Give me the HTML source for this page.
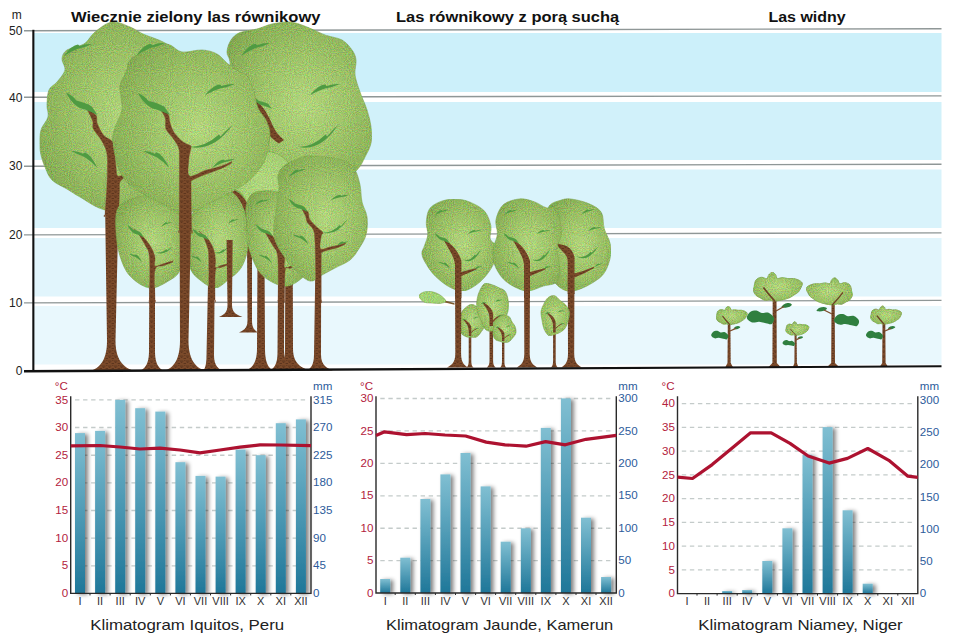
<!DOCTYPE html>
<html lang="pl"><head><meta charset="utf-8"><title>Lasy strefy międzyzwrotnikowej</title>
<style>html,body{margin:0;padding:0;background:#fff}svg{display:block}</style></head>
<body>
<svg width="960" height="640" viewBox="0 0 960 640" font-family="'Liberation Sans', 'DejaVu Sans', sans-serif">
<defs>
<radialGradient id="gL" cx="0.55" cy="0.5" r="0.62"><stop offset="0" stop-color="#bee28a"/><stop offset="0.45" stop-color="#a4cb70"/><stop offset="0.85" stop-color="#8ab259"/><stop offset="1" stop-color="#7da54e"/></radialGradient>
<radialGradient id="gK" cx="0.5" cy="0.5" r="0.6"><stop offset="0" stop-color="#bde48c"/><stop offset="1" stop-color="#a9d67a"/></radialGradient>
<radialGradient id="gS" cx="0.5" cy="0.5" r="0.6"><stop offset="0" stop-color="#c0e38c"/><stop offset="0.7" stop-color="#9cc568"/><stop offset="1" stop-color="#86ae55"/></radialGradient>
<linearGradient id="bar" x1="0" y1="0" x2="0" y2="1"><stop offset="0" stop-color="#80bfd2"/><stop offset="1" stop-color="#1f7799"/></linearGradient>
<pattern id="bark" width="6" height="5" patternUnits="userSpaceOnUse"><rect width="6" height="5" fill="#7b4a2a"/><path d="M0 1.1h3.4M3.6 3.5h2.4M0.8 2.4h1.6M4.2 0.4h1.2" stroke="#54301a" stroke-width="0.8" fill="none"/></pattern>
<filter id="sh" x="-60%" y="-5%" width="300%" height="110%"><feGaussianBlur in="SourceAlpha" stdDeviation="1.9"/><feOffset dx="3.1" dy="1.2"/><feComponentTransfer><feFuncA type="linear" slope="0.5"/></feComponentTransfer><feMerge><feMergeNode/><feMergeNode in="SourceGraphic"/></feMerge></filter>
<filter id="grain" x="0" y="0" width="100%" height="100%" color-interpolation-filters="sRGB"><feTurbulence type="fractalNoise" baseFrequency="0.95" numOctaves="2" seed="11" result="n"/><feColorMatrix in="n" type="matrix" values="1.6 0 0 0 -0.23  0 1.6 0 0 -0.11  0 0 1.6 0 -0.45  0 0 0 0 0.26" result="sp"/><feComposite in="sp" in2="SourceAlpha" operator="in" result="sp2"/><feMerge><feMergeNode in="SourceGraphic"/><feMergeNode in="sp2"/></feMerge></filter>
</defs>
<rect width="960" height="640" fill="#fff"/>
<rect x="34" y="33.0" width="907.5" height="59.0" fill="#ccf0fa"/>
<rect x="34" y="102.0" width="907.5" height="58.0" fill="#d1f1fa"/>
<rect x="34" y="169.5" width="907.5" height="58.5" fill="#d9f3fb"/>
<rect x="34" y="238.0" width="907.5" height="58.5" fill="#e1f5fc"/>
<rect x="34" y="306.0" width="907.5" height="58.5" fill="#e9f8fd"/>
<line x1="24" y1="30.7" x2="941.5" y2="28.8" stroke="#8f9797" stroke-width="1.4"/>
<line x1="24" y1="97.3" x2="941.5" y2="95.9" stroke="#8f9797" stroke-width="1.4"/>
<line x1="24" y1="166.2" x2="941.5" y2="164.3" stroke="#8f9797" stroke-width="1.4"/>
<line x1="24" y1="234.9" x2="941.5" y2="232.9" stroke="#8f9797" stroke-width="1.4"/>
<line x1="24" y1="302.9" x2="941.5" y2="300.4" stroke="#8f9797" stroke-width="1.4"/>
<g id="forest1">
<path d="M285.5 190.0 L285.0 348.5 C285.0 364.3 279.0 368.3 274.0 370.5 L310.0 370.5 C302.4 368.3 293.0 364.3 293.0 348.5 L292.5 190.0 Z" fill="url(#bark)"/>
<path d="M257.5 255.0 L257.0 348.5 C257.0 364.3 251.0 368.3 246.0 370.5 L273.0 370.5 C269.4 368.3 265.0 364.3 265.0 348.5 L264.5 255.0 Z" fill="url(#bark)"/>
<path d="M290.0 22.0 C295.8 22.5 301.2 24.8 307.0 27.0 C312.8 29.2 319.2 32.8 325.0 35.0 C330.8 37.2 337.5 37.5 342.0 40.0 C346.5 42.5 349.7 46.7 352.0 50.0 C354.3 53.3 355.5 55.8 356.0 60.0 C356.5 64.2 354.3 69.7 355.0 75.0 C355.7 80.3 358.0 86.2 360.0 92.0 C362.0 97.8 365.2 104.2 367.0 110.0 C368.8 115.8 370.3 121.5 371.0 127.0 C371.7 132.5 372.0 138.0 371.0 143.0 C370.0 148.0 367.3 152.5 365.0 157.0 C362.7 161.5 361.2 165.8 357.0 170.0 C352.8 174.2 347.8 178.7 340.0 182.0 C332.2 185.3 320.8 189.3 310.0 190.0 C299.2 190.7 285.0 188.3 275.0 186.0 C265.0 183.7 257.2 180.3 250.0 176.0 C242.8 171.7 236.3 166.0 232.0 160.0 C227.7 154.0 225.7 147.0 224.0 140.0 C222.3 133.0 221.7 125.0 222.0 118.0 C222.3 111.0 224.8 104.3 226.0 98.0 C227.2 91.7 228.3 86.0 229.0 80.0 C229.7 74.0 230.3 66.7 230.0 62.0 C229.7 57.3 226.8 55.7 227.0 52.0 C227.2 48.3 228.8 43.2 231.0 40.0 C233.2 36.8 235.7 34.3 240.0 32.5 C244.3 30.7 251.7 30.4 257.0 29.0 C262.3 27.6 266.5 25.2 272.0 24.0 C277.5 22.8 284.2 21.5 290.0 22.0Z" fill="url(#gL)" filter="url(#grain)" stroke="#76a048" stroke-width="1" stroke-opacity="0.5"/>
<path d="M252 97 C262 104 268 114 272 124 C275 131 279 136 284 140 L279 143.5 C270 138 262 128 258 117 C255 109 252 104 248 101Z" fill="url(#bark)"/>
<path d="M252.0 96.0 C254.4 97.0 257.0 98.6 258.6 100.7 C262.0 101.5 266.0 102.5 268.4 104.1 L272.0 109.0 C269.0 107.7 265.0 105.8 261.0 105.1 C257.0 103.2 254.0 99.9 252.0 96.0Z" fill="#4f9b42"/>
<path transform="translate(241.0 56.0)" d="M0 0 Q8.1 -11.8 14.5 -12.3 L16.2 -10.8 Q22.6 -13.6 29.0 -13.0 Q21.5 -9.3 14.5 -8.0 Q7.0 -4.9 0 0Z" fill="#4f9b42"/>
<path transform="translate(310.0 95.0)" d="M0 0 Q8.4 -10.2 15.0 -10.6 L16.8 -9.1 Q23.4 -11.6 30.0 -11.0 Q22.2 -7.5 15.0 -6.5 Q7.2 -3.9 0 0Z" fill="#4f9b42"/>
<path d="M299.0 147.0 Q313.8 146.3 325.5 134.5 L327.1 136.5 Q333.3 129.0 338.0 125.0 Q320.4 151.6 299.0 147.0Z" fill="#4f9b42"/>
<path d="M105.0 200.0 L107.0 341.0 C107.0 362.6 97.7 368.8 90.0 371.0 L135.0 371.0 C126.2 368.8 115.5 362.6 115.5 341.0 L118.7 200.0 Z" fill="url(#bark)"/>
<path d="M112.0 22.0 C117.8 21.2 124.8 25.0 130.0 27.0 C135.2 29.0 137.2 31.3 143.0 34.0 C148.8 36.7 158.0 39.0 165.0 43.0 C172.0 47.0 180.5 51.8 185.0 58.0 C189.5 64.2 190.2 71.3 192.0 80.0 C193.8 88.7 194.7 100.0 196.0 110.0 C197.3 120.0 200.7 129.2 200.0 140.0 C199.3 150.8 197.0 165.0 192.0 175.0 C187.0 185.0 178.7 193.8 170.0 200.0 C161.3 206.2 150.8 210.3 140.0 212.0 C129.2 213.7 115.0 212.5 105.0 210.0 C95.0 207.5 86.3 200.5 80.0 197.0 C73.7 193.5 71.7 191.8 67.0 189.0 C62.3 186.2 55.7 183.7 52.0 180.0 C48.3 176.3 46.8 171.2 45.0 167.0 C43.2 162.8 41.8 158.7 41.0 155.0 C40.2 151.3 40.0 149.2 40.0 145.0 C40.0 140.8 39.7 134.7 41.0 130.0 C42.3 125.3 47.0 121.2 48.0 117.0 C49.0 112.8 46.8 109.5 47.0 105.0 C47.2 100.5 47.3 93.8 49.0 90.0 C50.7 86.2 54.3 85.3 57.0 82.0 C59.7 78.7 64.2 73.8 65.0 70.0 C65.8 66.2 61.7 62.3 62.0 59.0 C62.3 55.7 63.3 52.5 67.0 50.0 C70.7 47.5 79.3 47.0 84.0 44.0 C88.7 41.0 90.3 35.7 95.0 32.0 C99.7 28.3 106.2 22.8 112.0 22.0Z" fill="url(#gL)" filter="url(#grain)" stroke="#76a048" stroke-width="1" stroke-opacity="0.5"/>
<path d="M84.8 106.4 C86.1 107.1 93.7 112.1 95.8 115.0 C97.9 117.9 96.0 120.2 97.3 123.6 C98.6 127.0 101.1 132.3 103.6 135.3 C106.1 138.3 110.4 138.7 112.2 141.6 C114.0 144.5 113.8 148.1 114.5 152.5 C115.2 156.9 115.6 164.1 116.1 168.0 C116.6 171.9 116.1 174.9 117.7 176.0 C119.3 177.1 124.2 174.6 125.5 174.3 C126.8 174.0 125.7 173.8 125.5 174.3 C125.3 174.8 125.1 176.2 124.2 177.5 C123.3 178.8 120.8 179.9 120.0 182.0 C119.2 184.1 119.7 184.5 119.5 190.0 C119.3 195.5 118.8 210.8 118.7 215.0 C118.6 219.2 121.0 215.0 118.7 215.0 C116.4 215.0 107.3 215.0 105.0 215.0 C102.7 215.0 104.7 219.2 105.0 215.0 C105.3 210.8 106.3 197.8 106.7 190.0 C107.1 182.2 107.5 174.2 107.5 168.0 C107.5 161.8 107.7 157.2 106.7 152.5 C105.7 147.8 103.5 143.9 101.2 140.0 C99.0 136.1 94.8 132.1 93.4 129.0 C92.0 125.9 93.6 124.2 92.7 121.2 C91.8 118.2 89.3 113.5 88.0 111.0 C86.7 108.5 83.5 105.7 84.8 106.4Z" fill="url(#bark)" stroke="#7b4a2a" stroke-width="0.4" stroke-linejoin="round"/>
<path d="M66.0 92.5 C69.8 94.3 73.9 97.0 76.4 100.6 C81.8 102.0 88.0 103.8 91.8 106.5 L97.5 115.0 C92.8 112.8 86.5 109.4 80.2 108.2 C73.9 104.9 69.2 99.2 66.0 92.5Z" fill="#4f9b42"/>
<path transform="translate(64.0 56.0)" d="M0 0 Q7.8 -10.9 14.0 -11.4 L15.7 -10.0 Q21.8 -12.6 28.0 -12.0 Q20.7 -8.5 14.0 -7.3 Q6.7 -4.5 0 0Z" fill="#4f9b42"/>
<path transform="translate(97.5 168.0) scale(-1 1)" d="M0 0 Q7.3 -14.8 13.0 -15.6 L14.6 -14.2 Q20.3 -17.6 26.0 -17.0 Q19.2 -13.0 13.0 -11.1 Q6.2 -6.9 0 0Z" fill="#4f9b42"/>
<path d="M264.0 152.0 C270.3 151.2 276.2 153.0 281.0 156.0 C285.8 159.0 290.3 164.3 293.0 170.0 C295.7 175.7 297.3 183.7 297.0 190.0 C296.7 196.3 295.2 203.5 291.0 208.0 C286.8 212.5 278.5 216.2 272.0 217.0 C265.5 217.8 257.7 215.7 252.0 213.0 C246.3 210.3 241.2 206.0 238.0 201.0 C234.8 196.0 232.2 189.7 233.0 183.0 C233.8 176.3 237.8 166.2 243.0 161.0 C248.2 155.8 257.7 152.8 264.0 152.0Z" fill="url(#gK)" filter="url(#grain)" stroke="#76a048" stroke-width="1" stroke-opacity="0.5"/>
<path d="M247.0 235.0 L247.5 320.5 C247.5 329.1 242.8 330.3 239.0 332.5 L258.0 332.5 C255.3 330.3 252.0 329.1 252.0 320.5 L252.0 235.0 Z" fill="url(#bark)"/>
<path d="M149.5 245.0 L149.0 351.0 C149.0 365.4 144.1 368.8 140.0 371.0 L164.0 371.0 C159.9 368.8 155.0 365.4 155.0 351.0 L155.0 245.0 Z" fill="url(#bark)"/>
<path d="M135.0 198.0 C141.2 196.0 148.2 195.2 155.0 196.0 C161.8 196.8 171.3 198.7 176.0 203.0 C180.7 207.3 182.0 214.2 183.0 222.0 C184.0 229.8 182.5 242.0 182.0 250.0 C181.5 258.0 182.0 265.0 180.0 270.0 C178.0 275.0 175.0 277.0 170.0 280.0 C165.0 283.0 156.7 288.7 150.0 288.0 C143.3 287.3 135.0 281.3 130.0 276.0 C125.0 270.7 122.3 263.3 120.0 256.0 C117.7 248.7 116.3 240.0 116.0 232.0 C115.7 224.0 114.8 213.7 118.0 208.0 C121.2 202.3 128.8 200.0 135.0 198.0Z" fill="url(#gL)" filter="url(#grain)" stroke="#76a048" stroke-width="1" stroke-opacity="0.5"/>
<path d="M134.0 229.0 C135.0 229.8 140.9 234.4 143.8 237.5 C146.6 240.6 149.4 244.2 151.2 247.5 C153.1 250.8 154.4 254.4 155.0 257.5 C155.6 260.6 153.5 265.0 155.0 266.0 C156.5 267.0 161.1 264.3 164.0 263.5 C166.9 262.7 171.1 261.4 172.5 261.0 C173.9 260.6 172.5 260.8 172.5 261.0 C172.5 261.2 173.9 261.4 172.5 262.2 C171.1 262.9 166.9 264.2 164.0 265.5 C161.1 266.8 156.5 264.2 155.0 270.0 C153.5 275.8 155.0 295.0 155.0 300.0 C155.0 305.0 155.9 300.0 155.0 300.0 C154.1 300.0 150.4 300.0 149.5 300.0 C148.6 300.0 149.5 307.1 149.5 300.0 C149.5 292.9 150.2 266.7 149.5 257.5 C148.8 248.3 147.0 249.2 145.0 245.0 C143.0 240.8 139.3 235.2 137.5 232.5 C135.7 229.8 133.0 228.2 134.0 229.0Z" fill="url(#bark)" stroke="#7b4a2a" stroke-width="0.4" stroke-linejoin="round"/>
<path d="M127.5 225.0 C129.5 226.0 131.6 227.5 132.9 229.5 C135.7 230.2 138.9 231.2 140.9 232.8 L143.8 237.5 C141.4 236.2 138.1 234.4 134.8 233.8 C131.6 231.9 129.1 228.8 127.5 225.0Z" fill="#4f9b42"/>
<path transform="translate(161.0 227.0)" d="M0 0 Q3.1 -4.7 5.5 -4.8 L6.2 -4.1 Q8.6 -5.3 11.0 -5.0 Q8.1 -3.4 5.5 -2.9 Q2.6 -1.7 0 0Z" fill="#4f9b42"/>
<path transform="translate(142.0 262.0) scale(-1 1)" d="M0 0 Q3.6 -7.1 6.5 -7.4 L7.3 -6.7 Q10.1 -8.3 13.0 -8.0 Q9.6 -6.0 6.5 -5.1 Q3.1 -3.2 0 0Z" fill="#4f9b42"/>
<path d="M155.0 252.0 Q161.5 253.8 166.6 249.2 L167.2 250.2 Q170.0 248.1 172.0 247.0 Q164.3 256.7 155.0 252.0Z" fill="#4f9b42"/>
<path d="M208.8 245.0 L206.5 355.0 C206.5 366.5 204.6 368.8 203.0 371.0 L223.0 371.0 C218.9 368.8 214.0 366.5 214.0 355.0 L215.0 245.0 Z" fill="url(#bark)"/>
<path d="M203.0 201.0 C208.7 196.2 216.2 194.7 222.0 193.0 C227.8 191.3 234.0 189.3 238.0 191.0 C242.0 192.7 244.3 196.5 246.0 203.0 C247.7 209.5 247.8 222.2 248.0 230.0 C248.2 237.8 248.7 243.7 247.5 250.0 C246.3 256.3 244.2 263.0 241.0 268.0 C237.8 273.0 232.3 276.7 228.0 280.0 C223.7 283.3 219.7 288.0 215.0 288.0 C210.3 288.0 204.2 283.3 200.0 280.0 C195.8 276.7 192.3 273.8 190.0 268.0 C187.7 262.2 186.3 252.7 186.0 245.0 C185.7 237.3 185.2 229.3 188.0 222.0 C190.8 214.7 197.3 205.8 203.0 201.0Z" fill="url(#gL)" filter="url(#grain)" stroke="#76a048" stroke-width="1" stroke-opacity="0.5"/>
<path d="M199.0 231.5 C200.0 232.3 206.3 236.9 208.8 240.0 C211.2 243.1 212.6 246.7 213.8 250.0 C214.9 253.3 215.2 257.1 215.5 260.0 C215.8 262.9 214.6 266.6 215.5 267.5 C216.4 268.4 219.0 266.1 221.0 265.5 C223.0 264.9 226.4 264.0 227.5 263.8 C228.6 263.5 227.5 263.5 227.5 263.8 C227.5 264.0 228.6 264.4 227.5 265.0 C226.4 265.6 223.0 266.6 221.0 267.5 C219.0 268.4 216.5 265.1 215.5 270.5 C214.5 275.9 215.1 295.1 215.0 300.0 C214.9 304.9 216.0 300.0 215.0 300.0 C214.0 300.0 209.8 300.0 208.8 300.0 C207.7 300.0 208.8 307.1 208.8 300.0 C208.8 292.9 209.0 266.2 208.8 257.5 C208.5 248.8 208.5 251.2 207.5 247.5 C206.5 243.8 203.9 237.7 202.5 235.0 C201.1 232.3 198.0 230.7 199.0 231.5Z" fill="url(#bark)" stroke="#7b4a2a" stroke-width="0.4" stroke-linejoin="round"/>
<path d="M192.5 228.8 C194.5 229.7 196.6 231.0 197.9 232.8 C200.7 233.5 203.9 234.4 205.9 235.8 L208.8 240.1 C206.4 238.9 203.1 237.2 199.8 236.7 C196.6 235.0 194.1 232.1 192.5 228.8Z" fill="#4f9b42"/>
<path transform="translate(228.0 224.0)" d="M0 0 Q3.1 -4.7 5.5 -4.8 L6.2 -4.1 Q8.6 -5.3 11.0 -5.0 Q8.1 -3.4 5.5 -2.9 Q2.6 -1.7 0 0Z" fill="#4f9b42"/>
<path transform="translate(202.0 263.0) scale(-1 1)" d="M0 0 Q3.1 -6.3 5.5 -6.6 L6.2 -5.8 Q8.6 -7.3 11.0 -7.0 Q8.1 -5.1 5.5 -4.4 Q2.6 -2.7 0 0Z" fill="#4f9b42"/>
<path d="M214.0 252.0 Q219.3 253.8 223.5 249.2 L224.1 250.2 Q226.3 248.1 228.0 247.0 Q221.7 256.7 214.0 252.0Z" fill="#4f9b42"/>
<path d="M232 192 C238 196 242 203 245 212 C247 220 247 230 247 240 L252 240 C252 228 252 216 249 207 C246 199 240 193 234 190Z" fill="url(#bark)"/>
<path d="M226.6 240.0 L227.5 305.0 C227.5 313.6 222.8 314.8 219.0 317.0 L242.5 317.0 C237.8 314.8 232.0 313.6 232.0 305.0 L232.6 240.0 Z" fill="url(#bark)"/>
<path d="M278.3 245.0 L277.5 352.5 C277.5 365.5 273.4 368.3 270.0 370.5 L292.0 370.5 C288.4 368.3 284.0 365.5 284.0 352.5 L284.5 245.0 Z" fill="url(#bark)"/>
<path d="M262.0 191.0 C266.5 190.5 272.5 190.8 278.0 192.0 C283.5 193.2 290.0 194.2 295.0 198.0 C300.0 201.8 305.2 208.0 308.0 215.0 C310.8 222.0 311.7 231.2 312.0 240.0 C312.3 248.8 311.7 261.7 310.0 268.0 C308.3 274.3 305.7 275.0 302.0 278.0 C298.3 281.0 293.0 285.3 288.0 286.0 C283.0 286.7 277.0 284.7 272.0 282.0 C267.0 279.3 262.0 276.2 258.0 270.0 C254.0 263.8 249.9 252.5 248.0 245.0 C246.1 237.5 246.8 231.3 246.5 225.0 C246.2 218.7 245.2 212.0 246.0 207.0 C246.8 202.0 248.3 197.7 251.0 195.0 C253.7 192.3 257.5 191.5 262.0 191.0Z" fill="url(#gL)" filter="url(#grain)" stroke="#76a048" stroke-width="1" stroke-opacity="0.5"/>
<path d="M262.0 229.0 C263.3 229.7 270.0 233.0 272.8 236.2 C275.6 239.5 277.1 245.4 279.0 248.8 C280.9 252.1 283.6 253.4 284.5 256.5 C285.4 259.6 283.4 265.9 284.5 267.5 C285.6 269.1 288.8 266.5 291.0 266.0 C293.2 265.5 296.7 264.7 297.8 264.4 C298.9 264.1 297.8 264.2 297.8 264.4 C297.8 264.6 299.1 264.8 297.8 265.5 C296.5 266.2 292.1 267.8 290.0 268.5 C287.9 269.2 286.2 264.2 285.3 269.5 C284.4 274.8 284.6 294.9 284.5 300.0 C284.4 305.1 285.5 300.0 284.5 300.0 C283.5 300.0 279.3 300.0 278.3 300.0 C277.3 300.0 278.3 303.3 278.3 300.0 C278.3 296.7 278.4 287.5 278.3 280.0 C278.2 272.5 278.4 260.7 277.5 255.0 C276.6 249.3 274.9 249.4 272.8 245.6 C270.7 241.8 266.8 235.1 265.0 232.3 C263.2 229.5 260.7 228.3 262.0 229.0Z" fill="url(#bark)" stroke="#7b4a2a" stroke-width="0.4" stroke-linejoin="round"/>
<path d="M255.6 224.5 C257.7 225.4 259.9 226.9 261.3 228.7 C264.2 229.5 267.6 230.4 269.7 231.8 L272.8 236.3 C270.2 235.1 266.8 233.3 263.3 232.8 C259.9 231.0 257.3 228.0 255.6 224.5Z" fill="#4f9b42"/>
<path transform="translate(254.8 205.0)" d="M0 0 Q4.2 -5.1 7.5 -5.3 L8.4 -4.6 Q11.7 -5.8 15.0 -5.5 Q11.1 -3.8 7.5 -3.2 Q3.6 -1.9 0 0Z" fill="#4f9b42"/>
<path transform="translate(272.1 263.6) scale(-1 1)" d="M0 0 Q3.7 -7.5 6.7 -7.9 L7.4 -7.2 Q10.4 -8.9 13.3 -8.6 Q9.8 -6.5 6.7 -5.6 Q3.2 -3.5 0 0Z" fill="#4f9b42"/>
<path d="M179.5 200.0 L180.0 340.5 C180.0 362.1 171.8 368.3 165.0 370.5 L205.0 370.5 C197.6 368.3 188.5 362.1 188.5 340.5 L191.5 200.0 Z" fill="url(#bark)"/>
<path d="M140.0 54.0 C145.0 51.5 155.0 46.5 160.0 45.0 C165.0 43.5 166.3 43.8 170.0 45.0 C173.7 46.2 176.7 51.2 182.0 52.0 C187.3 52.8 196.2 49.7 202.0 50.0 C207.8 50.3 212.7 51.7 217.0 54.0 C221.3 56.3 224.2 61.0 228.0 64.0 C231.8 67.0 236.7 69.8 240.0 72.0 C243.3 74.2 245.7 73.7 248.0 77.0 C250.3 80.3 252.3 86.8 254.0 92.0 C255.7 97.2 256.0 103.3 258.0 108.0 C260.0 112.7 264.0 115.8 266.0 120.0 C268.0 124.2 269.7 128.3 270.0 133.0 C270.3 137.7 268.8 143.5 268.0 148.0 C267.2 152.5 266.8 156.0 265.0 160.0 C263.2 164.0 260.2 168.2 257.0 172.0 C253.8 175.8 250.5 179.5 246.0 183.0 C241.5 186.5 236.0 189.7 230.0 193.0 C224.0 196.3 216.3 199.8 210.0 203.0 C203.7 206.2 197.0 210.3 192.0 212.0 C187.0 213.7 184.5 214.2 180.0 213.0 C175.5 211.8 170.8 208.0 165.0 205.0 C159.2 202.0 150.8 198.3 145.0 195.0 C139.2 191.7 134.2 188.8 130.0 185.0 C125.8 181.2 122.5 177.0 120.0 172.0 C117.5 167.0 116.2 159.8 115.0 155.0 C113.8 150.2 113.3 146.3 113.0 143.0 C112.7 139.7 112.5 138.0 113.0 135.0 C113.5 132.0 114.5 129.2 116.0 125.0 C117.5 120.8 121.2 114.7 122.0 110.0 C122.8 105.3 121.3 101.2 121.0 97.0 C120.7 92.8 119.2 89.2 120.0 85.0 C120.8 80.8 124.3 76.2 126.0 72.0 C127.7 67.8 127.7 63.0 130.0 60.0 C132.3 57.0 135.0 56.5 140.0 54.0Z" fill="url(#gL)" filter="url(#grain)" stroke="#76a048" stroke-width="1" stroke-opacity="0.5"/>
<path d="M157.5 105.6 C158.8 106.3 165.6 110.5 167.7 113.4 C169.8 116.3 169.0 119.7 170.0 122.8 C171.0 125.9 171.8 129.1 173.9 132.2 C176.0 135.3 179.8 139.4 182.5 141.6 C185.2 143.8 188.9 144.5 190.3 145.5 C191.7 146.5 191.3 145.3 191.0 147.8 C190.7 150.3 189.0 155.6 188.8 160.3 C188.5 165.0 186.8 174.3 189.5 176.0 C192.2 177.7 199.9 172.1 205.0 170.5 C210.1 168.9 215.7 167.9 220.0 166.5 C224.3 165.1 229.2 162.8 231.0 162.0 C232.8 161.2 231.0 161.8 231.0 162.0 C231.0 162.2 232.8 162.3 231.0 163.5 C229.2 164.7 225.2 166.8 220.0 169.0 C214.8 171.2 204.8 174.5 200.0 176.5 C195.2 178.5 192.5 180.2 191.0 181.0 C189.5 181.8 190.9 172.8 191.0 181.0 C191.1 189.2 191.4 221.8 191.5 230.0 C191.6 238.2 193.5 230.0 191.5 230.0 C189.5 230.0 181.5 230.0 179.5 230.0 C177.5 230.0 179.5 236.7 179.5 230.0 C179.5 223.3 179.4 201.6 179.4 190.0 C179.4 178.4 179.5 167.3 179.4 160.3 C179.3 153.3 179.7 151.5 178.6 147.8 C177.5 144.2 175.2 141.5 173.1 138.4 C171.0 135.3 167.3 132.4 166.0 129.0 C164.7 125.6 166.3 121.3 165.3 118.0 C164.3 114.7 161.3 111.1 160.0 109.0 C158.7 106.9 156.2 104.9 157.5 105.6Z" fill="url(#bark)" stroke="#7b4a2a" stroke-width="0.4" stroke-linejoin="round"/>
<path d="M138.0 93.0 C141.8 94.8 146.0 97.4 148.6 100.9 C154.0 102.2 160.4 104.0 164.2 106.6 L170.0 115.0 C165.2 112.8 158.8 109.5 152.4 108.4 C146.0 105.1 141.2 99.6 138.0 93.0Z" fill="#4f9b42"/>
<path transform="translate(136.0 56.0)" d="M0 0 Q8.1 -11.8 14.5 -12.3 L16.2 -10.8 Q22.6 -13.6 29.0 -13.0 Q21.5 -9.3 14.5 -8.0 Q7.0 -4.9 0 0Z" fill="#4f9b42"/>
<path transform="translate(205.0 95.0)" d="M0 0 Q8.4 -10.2 15.0 -10.6 L16.8 -9.1 Q23.4 -11.6 30.0 -11.0 Q22.2 -7.5 15.0 -6.5 Q7.2 -3.9 0 0Z" fill="#4f9b42"/>
<path d="M190.0 147.0 Q206.2 146.3 218.9 134.5 L220.6 136.5 Q227.4 129.0 232.5 125.0 Q213.4 151.6 190.0 147.0Z" fill="#4f9b42"/>
<path transform="translate(169.4 168.0) scale(-1 1)" d="M0 0 Q7.3 -14.8 13.0 -15.6 L14.6 -14.2 Q20.3 -17.6 26.0 -17.0 Q19.2 -13.0 13.0 -11.1 Q6.2 -6.9 0 0Z" fill="#4f9b42"/>
<path transform="translate(212.0 168.0)" d="M0 0 Q6.4 -8.3 11.5 -8.6 L12.9 -7.5 Q17.9 -9.5 23.0 -9.0 Q17.0 -6.3 11.5 -5.4 Q5.5 -3.2 0 0Z" fill="#4f9b42"/>
<path d="M315.8 240.0 L314.0 354.5 C314.0 366.0 310.2 368.3 307.0 370.5 L333.0 370.5 C327.6 368.3 321.0 366.0 321.0 354.5 L321.2 240.0 Z" fill="url(#bark)"/>
<path d="M285.0 165.0 C288.7 162.2 296.3 159.5 300.0 158.0 C303.7 156.5 302.8 156.2 307.0 156.0 C311.2 155.8 318.7 156.2 325.0 157.0 C331.3 157.8 340.0 158.8 345.0 161.0 C350.0 163.2 352.5 166.0 355.0 170.0 C357.5 174.0 358.8 179.7 360.0 185.0 C361.2 190.3 360.8 196.7 362.0 202.0 C363.2 207.3 366.3 211.5 367.0 217.0 C367.7 222.5 367.5 229.5 366.0 235.0 C364.5 240.5 360.7 245.8 358.0 250.0 C355.3 254.2 353.8 257.0 350.0 260.0 C346.2 263.0 339.7 265.5 335.0 268.0 C330.3 270.5 326.2 272.8 322.0 275.0 C317.8 277.2 314.5 281.8 310.0 281.0 C305.5 280.2 299.5 274.3 295.0 270.0 C290.5 265.7 286.3 260.0 283.0 255.0 C279.7 250.0 276.5 245.0 275.0 240.0 C273.5 235.0 273.7 230.8 274.0 225.0 C274.3 219.2 276.2 211.2 277.0 205.0 C277.8 198.8 278.8 193.0 279.0 188.0 C279.2 183.0 277.0 178.8 278.0 175.0 C279.0 171.2 281.3 167.8 285.0 165.0Z" fill="url(#gL)" filter="url(#grain)" stroke="#76a048" stroke-width="1" stroke-opacity="0.5"/>
<path d="M301.7 208.0 C302.1 207.3 306.7 210.2 308.0 212.0 C309.3 213.8 308.1 216.5 309.5 219.0 C310.9 221.5 314.4 224.7 316.6 226.9 C318.8 229.1 322.0 230.7 322.8 232.3 C323.6 233.9 321.6 233.5 321.2 236.2 C320.9 239.0 319.0 247.0 320.5 248.8 C322.0 250.5 327.3 247.5 330.0 247.0 C332.7 246.5 334.4 246.3 336.9 245.6 C339.4 244.9 343.6 243.4 345.0 243.0 C346.4 242.6 345.0 242.8 345.0 243.0 C345.0 243.2 346.3 243.5 345.0 244.3 C343.7 245.1 340.7 246.5 337.0 247.8 C333.3 249.1 325.4 250.2 322.8 251.9 C320.2 253.6 321.5 250.0 321.2 258.0 C321.0 266.0 321.2 293.0 321.2 300.0 C321.2 307.0 322.2 300.0 321.2 300.0 C320.3 300.0 316.7 300.0 315.8 300.0 C314.9 300.0 315.8 303.3 315.8 300.0 C315.8 296.7 315.9 289.6 315.8 280.0 C315.7 270.4 315.4 250.8 315.0 242.5 C314.6 234.2 314.7 233.4 313.4 230.0 C312.1 226.6 308.5 224.5 307.2 222.2 C305.9 219.9 306.5 218.4 305.6 216.0 C304.7 213.6 301.3 208.7 301.7 208.0Z" fill="url(#bark)" stroke="#7b4a2a" stroke-width="0.4" stroke-linejoin="round"/>
<path d="M288.4 198.7 C290.8 199.8 293.3 201.4 294.9 203.5 C298.2 204.3 302.1 205.3 304.5 206.9 L308.0 212.0 C305.1 210.7 301.1 208.7 297.2 208.0 C293.3 206.0 290.4 202.7 288.4 198.7Z" fill="#4f9b42"/>
<path transform="translate(289.0 177.0)" d="M0 0 Q4.8 -7.2 8.5 -7.5 L9.5 -6.6 Q13.3 -8.4 17.0 -8.0 Q12.6 -5.8 8.5 -5.0 Q4.1 -3.0 0 0Z" fill="#4f9b42"/>
<path transform="translate(330.6 200.3)" d="M0 0 Q5.3 -5.3 9.5 -5.5 L10.6 -4.5 Q14.8 -5.9 19.0 -5.5 Q14.1 -3.5 9.5 -3.0 Q4.6 -1.8 0 0Z" fill="#4f9b42"/>
<path d="M322.8 232.8 Q332.3 232.5 339.8 224.9 L340.8 226.3 Q344.8 221.5 347.8 219.0 Q336.6 236.2 322.8 232.8Z" fill="#4f9b42"/>
<path transform="translate(308.8 244.7) scale(-1 1)" d="M0 0 Q4.6 -8.8 8.2 -9.2 L9.2 -8.3 Q12.9 -10.4 16.5 -10.0 Q12.2 -7.5 8.2 -6.5 Q4.0 -4.0 0 0Z" fill="#4f9b42"/>
<path transform="translate(337.0 245.6)" d="M0 0 Q3.2 -3.9 5.8 -4.0 L6.4 -3.3 Q9.0 -4.3 11.5 -4.0 Q8.5 -2.5 5.8 -2.2 Q2.8 -1.3 0 0Z" fill="#4f9b42"/>
</g>
<g id="forest2">
<path d="M445 302.5 L454.5 304.8 L454.5 303.2 L445 300.5Z" fill="#7c5a2e"/>
<path d="M419.0 296.0 C419.0 294.3 421.8 292.7 424.0 292.0 C426.2 291.3 429.3 291.3 432.0 291.8 C434.7 292.3 437.7 293.5 440.0 295.0 C442.3 296.5 445.8 299.6 445.8 301.0 C445.8 302.4 442.3 303.1 440.0 303.4 C437.7 303.7 434.7 303.2 432.0 303.0 C429.3 302.8 426.2 303.2 424.0 302.0 C421.8 300.8 419.0 297.7 419.0 296.0Z" fill="#a7de7d" filter="url(#grain)" stroke="#76a048" stroke-width="1" stroke-opacity="0.5"/>
<path d="M567.7 258.0 L568.0 353.6 C568.0 363.7 564.3 365.4 561.2 367.6 L582.0 367.6 C578.5 365.4 574.2 363.7 574.2 353.6 L574.5 258.0 Z" fill="url(#bark)"/>
<path d="M570.0 198.9 C574.6 199.4 582.7 201.1 587.9 203.3 C593.1 205.5 598.5 208.0 601.2 212.2 C603.9 216.4 602.7 223.4 604.2 228.6 C605.7 233.8 609.1 238.5 610.1 243.4 C611.1 248.3 611.1 253.3 610.1 258.2 C609.1 263.1 606.9 269.0 604.2 273.0 C601.5 277.0 598.0 279.3 593.8 282.0 C589.6 284.7 583.5 287.9 579.0 289.4 C574.5 290.9 570.9 291.8 567.1 290.9 C563.3 290.0 559.0 287.5 556.0 284.0 C553.0 280.5 550.7 275.7 549.0 270.0 C547.3 264.3 546.2 256.7 546.0 250.0 C545.8 243.3 547.8 235.8 548.0 230.0 C548.2 224.2 546.7 219.2 547.0 215.0 C547.3 210.8 547.8 207.4 550.0 205.0 C552.2 202.6 556.7 201.5 560.0 200.5 C563.3 199.5 565.4 198.4 570.0 198.9Z" fill="url(#gL)" filter="url(#grain)" stroke="#76a048" stroke-width="1" stroke-opacity="0.5"/>
<path d="M567.7 261.0 C567.2 253.0 561.0 252.0 556.0 243.0 C561.0 245.0 569.5 244.0 573.3 253.5 L574.5 257.0 L574.5 273.4 Q584.1 271.2 593.8 266.8 L594.1 268.0 Q584.1 274.2 574.5 277.4 L574.5 294.0 L567.7 294.0 Z" fill="url(#bark)"/>
<path d="M575.5 256.0 Q584.0 259.7 590.8 251.5 L591.7 252.7 Q595.3 248.9 598.0 247.0 Q587.9 263.2 575.5 256.0Z" fill="#4f9b42"/>
<path transform="translate(582.0 214.0)" d="M0 0 Q3.4 -4.3 6.0 -4.4 L6.7 -3.7 Q9.4 -4.8 12.0 -4.5 Q8.9 -3.0 6.0 -2.5 Q2.9 -1.5 0 0Z" fill="#4f9b42"/>
<path transform="translate(588.0 231.0)" d="M0 0 Q3.9 -3.9 7.0 -4.0 L7.8 -3.3 Q10.9 -4.3 14.0 -4.0 Q10.4 -2.5 7.0 -2.2 Q3.4 -1.3 0 0Z" fill="#4f9b42"/>
<path transform="translate(594.5 267.0)" d="M0 0 Q2.2 -3.5 4.0 -3.5 L4.5 -2.9 Q6.2 -3.8 8.0 -3.5 Q5.9 -2.1 4.0 -1.8 Q1.9 -1.0 0 0Z" fill="#4f9b42"/>
<path d="M468.7 329.4 L468.7 360.6 C468.7 365.6 467.5 366.6 466.5 367.6 L473.5 367.6 C472.5 366.6 471.3 365.6 471.3 360.6 L471.3 329.4 Z" fill="url(#bark)"/>
<path d="M471.6 304.3 C473.5 304.3 475.7 305.8 477.1 307.2 C478.6 308.7 479.2 311.1 480.4 313.0 C481.6 314.8 483.6 316.2 484.3 318.3 C484.9 320.5 485.0 323.7 484.4 326.0 C483.9 328.4 482.2 330.6 480.8 332.4 C479.5 334.3 478.1 336.1 476.5 336.9 C475.0 337.7 473.3 337.3 471.6 337.3 C470.0 337.3 468.5 337.6 466.8 336.9 C465.1 336.3 462.6 335.4 461.5 333.6 C460.3 331.7 460.1 328.2 459.9 325.7 C459.7 323.2 459.8 321.0 460.1 318.7 C460.4 316.4 460.8 313.8 461.8 311.9 C462.8 310.0 464.5 308.5 466.1 307.2 C467.8 305.9 469.8 304.3 471.6 304.3Z" fill="url(#gS)" filter="url(#grain)" stroke="#76a048" stroke-width="1" stroke-opacity="0.5"/>
<path d="M468.7 331.4 C468.7 325.4 465.7 322.8 463.2 319.5 L463.8 318.9 C467.2 320.8 471.3 324.1 471.3 327.7 L471.3 336.0 L468.7 336.0Z" fill="url(#bark)"/>
<path d="M471.0 332.7 Q473.5 330.0 476.6 328.7" stroke="#7b4a2a" stroke-width="1.0" fill="none"/>
<path transform="translate(461.7 320.5)" d="M0 0 Q1.4 -1.9 2.5 -1.9 L2.8 -1.3 Q3.9 -1.9 5.1 -1.7 Q3.7 -0.7 2.5 -0.6 Q1.2 -0.2 0 0Z" fill="#4f9b42"/>
<path transform="translate(473.0 318.8)" d="M0 0 Q1.6 -1.9 2.8 -1.9 L3.1 -1.3 Q4.3 -1.9 5.6 -1.7 Q4.1 -0.7 2.8 -0.6 Q1.3 -0.2 0 0Z" fill="#4f9b42"/>
<path transform="translate(475.1 329.4)" d="M0 0 Q1.1 -1.6 2.0 -1.5 L2.3 -1.1 Q3.2 -1.5 4.0 -1.3 Q3.0 -0.5 2.0 -0.4 Q1.0 -0.1 0 0Z" fill="#4f9b42"/>
<path d="M455.0 262.0 L455.3 353.6 C455.3 363.7 450.7 365.4 447.0 367.6 L468.0 367.6 C464.9 365.4 461.1 363.7 461.1 353.6 L461.4 262.0 Z" fill="url(#bark)"/>
<path d="M454.5 199.0 C459.4 199.0 464.4 199.9 469.4 201.9 C474.3 203.9 480.6 206.9 484.2 210.8 C487.8 214.8 489.8 220.9 490.8 225.6 C491.8 230.3 489.3 235.5 490.2 239.0 C491.1 242.5 495.3 242.7 496.0 246.4 C496.7 250.1 496.3 256.4 494.6 261.3 C492.9 266.2 489.2 271.8 485.7 276.0 C482.2 280.2 477.8 284.0 473.8 286.5 C469.9 289.0 466.2 291.0 462.0 291.0 C457.8 291.0 453.1 289.0 448.6 286.5 C444.1 284.0 438.9 279.7 435.2 276.0 C431.5 272.3 428.5 267.9 426.3 264.2 C424.1 260.5 422.1 257.0 421.9 253.8 C421.6 250.6 423.8 248.2 424.8 245.0 C425.8 241.8 427.6 238.2 427.8 234.5 C428.1 230.8 426.1 226.9 426.3 222.7 C426.6 218.5 427.1 212.8 429.3 209.3 C431.5 205.8 435.5 203.6 439.7 201.9 C443.9 200.2 449.6 199.0 454.5 199.0Z" fill="url(#gL)" filter="url(#grain)" stroke="#76a048" stroke-width="1" stroke-opacity="0.5"/>
<path d="M455.0 265.0 C454.5 257.0 448.4 248.5 443.4 239.5 C448.4 241.5 456.4 248.0 460.2 257.5 L461.4 261.0 L461.4 272.0 Q468.9 269.8 476.5 268.0 L476.8 269.2 Q468.9 272.8 461.4 276.0 L461.4 298.0 L455.0 298.0 Z" fill="url(#bark)"/>
<path d="M434.5 233.0 C436.4 233.8 438.4 235.1 439.6 236.8 C442.2 237.4 445.4 238.2 447.2 239.5 L450.0 243.5 C447.7 242.4 444.6 240.9 441.5 240.3 C438.4 238.8 436.1 236.2 434.5 233.0Z" fill="#4f9b42"/>
<path d="M462.0 259.0 Q469.2 262.6 474.9 254.4 L475.7 255.5 Q478.7 251.6 481.0 249.7 Q472.4 266.1 462.0 259.0Z" fill="#4f9b42"/>
<path transform="translate(434.8 215.3)" d="M0 0 Q3.8 -5.1 6.8 -5.3 L7.6 -4.6 Q10.5 -5.8 13.5 -5.5 Q10.0 -3.8 6.8 -3.3 Q3.2 -2.0 0 0Z" fill="#4f9b42"/>
<path transform="translate(467.7 234.0)" d="M0 0 Q3.9 -3.9 7.0 -4.0 L7.8 -3.3 Q10.9 -4.3 14.0 -4.0 Q10.4 -2.5 7.0 -2.2 Q3.4 -1.3 0 0Z" fill="#4f9b42"/>
<path transform="translate(474.5 269.3)" d="M0 0 Q2.2 -3.2 4.0 -3.3 L4.5 -2.6 Q6.2 -3.5 8.0 -3.2 Q5.9 -1.9 4.0 -1.6 Q1.9 -0.9 0 0Z" fill="#4f9b42"/>
<path transform="translate(450.5 269.0) scale(-1 1)" d="M0 0 Q3.5 -6.3 6.2 -6.6 L7.0 -5.8 Q9.8 -7.3 12.5 -7.0 Q9.2 -5.1 6.2 -4.4 Q3.0 -2.7 0 0Z" fill="#4f9b42"/>
<path d="M524.0 262.0 L524.3 353.6 C524.3 363.7 520.1 365.4 516.7 367.6 L537.5 367.6 C534.0 365.4 529.7 363.7 529.7 353.6 L530.0 262.0 Z" fill="url(#bark)"/>
<path d="M519.7 198.9 C524.9 198.4 530.0 200.4 534.5 201.9 C539.0 203.4 542.7 206.8 546.4 207.8 C550.1 208.8 554.5 205.8 556.7 207.8 C558.9 209.8 559.0 215.2 559.7 219.7 C560.5 224.1 561.7 229.6 561.2 234.5 C560.7 239.4 557.0 243.9 556.7 249.3 C556.5 254.7 559.7 261.7 559.7 267.1 C559.7 272.6 559.4 278.9 556.7 282.0 C554.0 285.1 548.1 284.5 543.4 286.0 C538.7 287.5 533.0 290.6 528.6 290.9 C524.2 291.2 520.9 289.9 516.7 287.9 C512.5 285.9 507.0 282.9 503.3 279.0 C499.6 275.1 496.1 269.1 494.4 264.2 C492.7 259.2 492.5 254.2 493.0 249.3 C493.5 244.4 496.9 239.4 497.4 234.5 C497.9 229.6 495.0 224.6 496.0 219.7 C497.0 214.8 499.4 208.3 503.3 204.8 C507.2 201.3 514.5 199.4 519.7 198.9Z" fill="url(#gL)" filter="url(#grain)" stroke="#76a048" stroke-width="1" stroke-opacity="0.5"/>
<path d="M524.0 265.0 C523.5 257.0 517.5 248.5 512.5 239.5 C517.5 241.5 525.0 248.0 528.8 257.5 L530.0 261.0 L530.0 272.0 Q537.8 269.8 545.5 268.0 L545.8 269.2 Q537.8 272.8 530.0 276.0 L530.0 298.0 L524.0 298.0 Z" fill="url(#bark)"/>
<path d="M503.5 233.0 C505.4 233.8 507.4 235.1 508.6 236.8 C511.2 237.4 514.4 238.2 516.2 239.5 L519.0 243.5 C516.7 242.4 513.6 240.9 510.5 240.3 C507.4 238.8 505.1 236.2 503.5 233.0Z" fill="#4f9b42"/>
<path d="M531.0 259.0 Q538.2 262.6 543.9 254.4 L544.7 255.5 Q547.7 251.6 550.0 249.7 Q541.5 266.1 531.0 259.0Z" fill="#4f9b42"/>
<path transform="translate(504.0 215.3)" d="M0 0 Q3.8 -5.1 6.8 -5.3 L7.6 -4.6 Q10.5 -5.8 13.5 -5.5 Q10.0 -3.8 6.8 -3.3 Q3.2 -2.0 0 0Z" fill="#4f9b42"/>
<path transform="translate(536.5 234.0)" d="M0 0 Q3.9 -3.9 7.0 -4.0 L7.8 -3.3 Q10.9 -4.3 14.0 -4.0 Q10.4 -2.5 7.0 -2.2 Q3.4 -1.3 0 0Z" fill="#4f9b42"/>
<path transform="translate(543.5 269.3)" d="M0 0 Q2.2 -3.2 4.0 -3.3 L4.5 -2.6 Q6.2 -3.5 8.0 -3.2 Q5.9 -1.9 4.0 -1.6 Q1.9 -0.9 0 0Z" fill="#4f9b42"/>
<path transform="translate(519.5 269.0) scale(-1 1)" d="M0 0 Q3.5 -6.3 6.2 -6.6 L7.0 -5.8 Q9.8 -7.3 12.5 -7.0 Q9.2 -5.1 6.2 -4.4 Q3.0 -2.7 0 0Z" fill="#4f9b42"/>
<path d="M553.1 324.7 L553.1 360.6 C553.1 365.6 551.9 366.6 550.9 367.6 L557.9 367.6 C556.9 366.6 555.7 365.6 555.7 360.6 L555.7 324.7 Z" fill="url(#bark)"/>
<path d="M554.5 295.7 C556.6 296.1 558.3 299.0 560.1 300.5 C561.8 302.0 563.7 302.7 565.2 304.5 C566.8 306.4 568.8 308.9 569.3 311.5 C569.8 314.2 569.0 317.7 568.2 320.5 C567.5 323.3 566.4 326.4 564.9 328.4 C563.5 330.4 561.4 331.5 559.7 332.5 C558.0 333.5 556.4 333.9 554.5 334.4 C552.7 334.8 550.3 336.3 548.5 335.4 C546.7 334.4 545.0 331.2 543.9 328.6 C542.9 326.1 542.5 322.9 542.0 320.2 C541.6 317.4 540.8 314.6 541.0 311.9 C541.3 309.3 542.5 306.7 543.7 304.3 C544.8 301.9 546.2 299.1 548.0 297.7 C549.9 296.2 552.5 295.2 554.5 295.7Z" fill="url(#gS)" filter="url(#grain)" stroke="#76a048" stroke-width="1" stroke-opacity="0.5"/>
<path d="M553.1 326.7 C553.1 320.0 549.6 316.9 546.8 313.1 L547.4 312.5 C551.3 314.6 555.7 318.5 555.7 322.7 L555.7 332.4 L553.1 332.4Z" fill="url(#bark)"/>
<path d="M555.4 328.5 Q558.4 325.4 561.8 323.9" stroke="#7b4a2a" stroke-width="1.0" fill="none"/>
<path transform="translate(545.1 314.2)" d="M0 0 Q1.6 -2.1 2.8 -2.1 L3.2 -1.6 Q4.4 -2.2 5.7 -1.9 Q4.2 -0.9 2.8 -0.8 Q1.4 -0.4 0 0Z" fill="#4f9b42"/>
<path transform="translate(557.8 312.3)" d="M0 0 Q1.7 -2.1 3.1 -2.1 L3.5 -1.6 Q4.9 -2.2 6.2 -1.9 Q4.6 -0.9 3.1 -0.8 Q1.5 -0.4 0 0Z" fill="#4f9b42"/>
<path transform="translate(560.1 324.7)" d="M0 0 Q1.3 -1.7 2.3 -1.7 L2.5 -1.3 Q3.5 -1.8 4.5 -1.5 Q3.4 -0.7 2.3 -0.6 Q1.1 -0.2 0 0Z" fill="#4f9b42"/>
<path d="M489.5 316.8 L489.5 360.6 C489.5 365.6 487.8 366.6 486.8 367.6 L495.8 367.6 C494.8 366.6 493.1 365.6 493.1 360.6 L493.1 316.8 Z" fill="url(#bark)"/>
<path d="M492.1 284.8 C494.4 285.4 496.3 286.4 498.5 287.6 C500.7 288.7 503.7 289.2 505.3 291.5 C506.9 293.8 507.9 297.9 508.3 301.3 C508.7 304.7 508.6 308.7 507.8 311.9 C507.0 315.2 505.1 318.5 503.5 320.7 C501.8 323.0 499.6 323.8 497.7 325.5 C495.8 327.2 494.2 330.5 492.1 331.1 C490.0 331.7 487.2 331.1 485.3 329.3 C483.5 327.5 482.4 323.3 481.0 320.4 C479.7 317.4 478.0 314.8 477.3 311.6 C476.6 308.5 476.5 304.9 476.8 301.6 C477.1 298.3 477.9 294.8 479.2 291.9 C480.5 288.9 482.3 285.0 484.4 283.8 C486.6 282.6 489.8 284.2 492.1 284.8Z" fill="url(#gS)" filter="url(#grain)" stroke="#76a048" stroke-width="1" stroke-opacity="0.5"/>
<path d="M489.5 318.8 C489.5 311.3 485.8 307.6 482.6 302.9 L483.2 302.3 C487.8 304.8 493.1 309.4 493.1 314.5 L493.1 326.1 L489.5 326.1Z" fill="url(#bark)"/>
<path d="M492.8 321.5 Q495.8 317.8 499.7 315.9" stroke="#7b4a2a" stroke-width="1.4" fill="none"/>
<path transform="translate(480.7 304.3)" d="M0 0 Q1.8 -2.4 3.2 -2.4 L3.6 -1.9 Q5.0 -2.6 6.4 -2.3 Q4.8 -1.2 3.2 -1.1 Q1.5 -0.6 0 0Z" fill="#4f9b42"/>
<path transform="translate(495.2 302.0)" d="M0 0 Q2.0 -2.4 3.5 -2.4 L4.0 -1.9 Q5.5 -2.6 7.1 -2.3 Q5.2 -1.2 3.5 -1.1 Q1.7 -0.6 0 0Z" fill="#4f9b42"/>
<path transform="translate(497.7 316.8)" d="M0 0 Q1.4 -2.0 2.6 -2.0 L2.9 -1.5 Q4.0 -2.1 5.2 -1.9 Q3.8 -0.9 2.6 -0.8 Q1.2 -0.4 0 0Z" fill="#4f9b42"/>
<path d="M502.0 335.6 L502.0 360.6 C502.0 365.6 501.2 366.6 500.2 367.6 L506.2 367.6 C505.2 366.6 504.4 365.6 504.4 360.6 L504.4 335.6 Z" fill="url(#bark)"/>
<path d="M504.1 315.2 C505.8 315.1 507.9 315.7 509.3 316.8 C510.6 318.0 511.1 320.4 512.1 322.0 C513.1 323.7 514.5 324.8 515.1 326.6 C515.7 328.4 516.3 330.9 515.9 332.9 C515.5 334.8 513.7 336.7 512.5 338.2 C511.3 339.7 509.9 341.2 508.5 341.9 C507.1 342.6 505.5 342.5 504.1 342.4 C502.6 342.3 501.3 341.9 499.8 341.3 C498.2 340.8 495.9 340.5 494.8 339.0 C493.6 337.6 493.1 334.7 492.9 332.7 C492.7 330.7 493.3 328.7 493.7 326.8 C494.1 324.9 494.2 322.8 495.1 321.2 C496.0 319.6 497.6 318.4 499.0 317.4 C500.5 316.4 502.3 315.3 504.1 315.2Z" fill="url(#gS)" filter="url(#grain)" stroke="#76a048" stroke-width="1" stroke-opacity="0.5"/>
<path d="M502.0 337.6 C502.0 332.3 499.3 330.1 497.0 327.4 L497.6 326.8 C500.7 328.5 504.4 331.2 504.4 334.2 L504.4 341.0 L502.0 341.0Z" fill="url(#bark)"/>
<path d="M504.1 338.3 Q506.4 336.1 509.2 335.0" stroke="#7b4a2a" stroke-width="1.0" fill="none"/>
<path transform="translate(495.6 328.2)" d="M0 0 Q1.3 -1.6 2.3 -1.6 L2.6 -1.1 Q3.6 -1.6 4.6 -1.4 Q3.4 -0.4 2.3 -0.4 Q1.1 -0.1 0 0Z" fill="#4f9b42"/>
<path transform="translate(506.0 326.9)" d="M0 0 Q1.4 -1.6 2.5 -1.6 L2.8 -1.1 Q4.0 -1.6 5.1 -1.4 Q3.8 -0.4 2.5 -0.4 Q1.2 -0.1 0 0Z" fill="#4f9b42"/>
<path transform="translate(507.8 335.6)" d="M0 0 Q1.0 -1.4 1.8 -1.3 L2.1 -0.9 Q2.9 -1.3 3.7 -1.1 Q2.7 -0.3 1.8 -0.2 Q0.9 -0.0 0 0Z" fill="#4f9b42"/>
</g>
<g id="forest3">
<path d="M727.8 322.0 L727.5 362.9 L725.4 366.9 L732.9 366.9 L730.7 362.9 L730.4 322.0 Z" fill="url(#bark)"/>
<path d="M711.2 335.5 C711.0 334.4 712.3 332.5 713.3 331.7 C714.2 330.9 716.0 330.7 717.2 330.8 C718.4 330.9 719.3 332.1 720.6 332.4 C721.9 332.6 723.6 331.7 724.9 332.2 C726.2 332.7 728.0 334.3 728.3 335.5 C728.6 336.6 727.8 338.7 726.9 339.2 C726.1 339.8 724.5 339.0 723.2 338.8 C721.8 338.5 720.3 337.9 718.9 337.8 C717.5 337.7 715.9 338.7 714.6 338.3 C713.3 337.9 711.4 336.6 711.2 335.5Z" fill="#2f7f3f"/>
<path d="M733.7 328.6 C733.7 328.1 734.9 327.1 735.7 326.6 C736.5 326.2 737.5 325.9 738.3 326.0 C739.1 326.1 740.3 326.7 740.3 327.1 C740.3 327.6 739.1 328.4 738.3 328.7 C737.5 329.1 736.5 329.2 735.7 329.2 C734.9 329.2 733.7 329.0 733.7 328.6Z" fill="#2f7f3f"/>
<path d="M730.0 331.0 L736.0 328.3" stroke="#7c4b2b" stroke-width="1.3" fill="none"/>
<path d="M728.1 306.3 C728.8 306.3 729.7 307.2 730.2 307.8 C730.8 308.5 730.6 309.9 731.3 310.2 C732.0 310.5 733.5 309.7 734.6 309.7 C735.8 309.8 737.0 310.2 738.2 310.3 C739.4 310.4 740.6 310.1 741.8 310.3 C743.0 310.5 744.4 311.0 745.3 311.5 C746.2 312.0 747.1 312.6 747.2 313.4 C747.4 314.2 746.6 315.5 746.2 316.4 C745.7 317.3 745.4 318.1 744.7 318.8 C744.0 319.5 742.9 320.1 742.0 320.7 C741.1 321.3 740.4 321.9 739.4 322.3 C738.4 322.8 737.0 323.2 735.8 323.5 C734.6 323.8 733.3 324.1 732.3 324.2 C731.2 324.4 730.3 324.7 729.3 324.6 C728.3 324.5 727.3 324.0 726.3 323.9 C725.3 323.8 724.3 324.4 723.3 324.1 C722.4 323.9 721.3 323.0 720.4 322.5 C719.5 322.0 718.7 321.9 718.0 321.2 C717.3 320.4 716.4 319.2 716.2 318.2 C716.0 317.2 716.5 316.2 716.7 315.2 C716.9 314.2 717.0 313.2 717.3 312.4 C717.6 311.6 717.9 310.9 718.6 310.5 C719.3 310.0 720.6 309.5 721.6 309.5 C722.6 309.5 723.9 310.6 724.7 310.3 C725.4 310.1 725.4 308.6 726.0 308.0 C726.5 307.3 727.4 306.3 728.1 306.3Z" fill="url(#gS)" stroke="#7aa44d" stroke-width="0.8" filter="url(#grain)"/>
<path d="M729.6 324.5 Q725.7 320.3 722.8 316.4" stroke="#6b4526" stroke-width="1.2" fill="none" stroke-linecap="round"/>
<path d="M772.7 298.0 L772.4 362.9 L768.6 366.9 L780.6 366.9 L776.8 362.9 L776.5 298.0 Z" fill="url(#bark)"/>
<path d="M746.9 317.9 C746.5 316.2 748.6 313.2 750.2 311.9 C751.7 310.7 754.4 310.3 756.4 310.4 C758.3 310.6 759.8 312.6 761.8 313.0 C763.8 313.4 766.5 311.9 768.6 312.7 C770.6 313.5 773.5 316.1 774.0 317.9 C774.5 319.8 773.2 323.1 771.8 323.9 C770.5 324.8 768.0 323.6 765.9 323.2 C763.7 322.8 761.4 321.8 759.1 321.7 C756.8 321.6 754.4 323.1 752.3 322.4 C750.3 321.8 747.3 319.7 746.9 317.9Z" fill="#2f7f3f"/>
<path d="M781.5 306.8 C781.5 306.2 783.4 304.6 784.6 304.0 C785.8 303.3 787.6 302.9 788.8 303.0 C790.0 303.1 791.9 304.0 791.9 304.7 C791.9 305.4 790.0 306.6 788.8 307.1 C787.6 307.6 785.8 307.8 784.6 307.8 C783.4 307.8 781.5 307.5 781.5 306.8Z" fill="#2f7f3f"/>
<path d="M776.0 311.0 L784.0 306.5" stroke="#7c4b2b" stroke-width="1.3" fill="none"/>
<path d="M772.2 272.2 C773.3 272.2 774.7 273.6 775.6 274.6 C776.4 275.7 776.1 277.9 777.3 278.4 C778.4 278.9 780.7 277.6 782.5 277.6 C784.3 277.7 786.3 278.4 788.1 278.6 C790.0 278.7 791.9 278.3 793.8 278.6 C795.6 278.9 798.0 279.6 799.4 280.4 C800.8 281.3 802.2 282.2 802.4 283.4 C802.6 284.7 801.4 286.7 800.7 288.1 C800.0 289.5 799.5 290.8 798.5 291.9 C797.4 293.0 795.5 293.9 794.1 294.9 C792.7 295.8 791.6 296.8 790.0 297.5 C788.4 298.3 786.3 298.9 784.4 299.4 C782.5 299.9 780.5 300.2 778.8 300.5 C777.0 300.8 775.6 301.2 774.1 301.1 C772.5 301.0 771.0 300.1 769.4 299.9 C767.8 299.8 766.3 300.7 764.7 300.3 C763.1 299.9 761.4 298.5 760.0 297.7 C758.6 296.9 757.4 296.8 756.3 295.6 C755.2 294.5 753.8 292.5 753.5 290.9 C753.1 289.4 753.9 287.8 754.2 286.3 C754.5 284.7 754.6 283.0 755.1 281.8 C755.6 280.5 756.1 279.5 757.2 278.8 C758.3 278.0 760.3 277.3 761.9 277.3 C763.5 277.2 765.6 279.0 766.8 278.6 C767.9 278.2 767.9 275.9 768.8 274.8 C769.7 273.8 771.1 272.2 772.2 272.2Z" fill="url(#gS)" stroke="#7aa44d" stroke-width="0.8" filter="url(#grain)"/>
<path d="M774.6 300.9 Q768.5 294.3 763.8 288.1" stroke="#6b4526" stroke-width="1.7" fill="none" stroke-linecap="round"/>
<path d="M794.6 333.0 L794.4 362.9 L792.9 366.9 L798.4 366.9 L796.9 362.9 L796.6 333.0 Z" fill="url(#bark)"/>
<path d="M782.5 343.3 C782.3 342.5 783.3 341.2 784.0 340.7 C784.7 340.1 786.0 339.9 786.8 340.0 C787.7 340.1 788.4 341.0 789.3 341.1 C790.2 341.3 791.5 340.6 792.4 341.0 C793.3 341.4 794.7 342.5 794.9 343.3 C795.1 344.1 794.5 345.5 793.9 345.9 C793.3 346.3 792.2 345.7 791.2 345.6 C790.2 345.4 789.1 345.0 788.1 344.9 C787.0 344.8 785.9 345.5 785.0 345.2 C784.0 345.0 782.7 344.0 782.5 343.3Z" fill="#2f7f3f"/>
<path d="M797.5 338.3 C797.5 338.0 798.5 337.1 799.1 336.8 C799.8 336.5 800.7 336.2 801.4 336.3 C802.0 336.4 803.0 336.8 803.0 337.2 C803.0 337.5 802.0 338.2 801.4 338.4 C800.7 338.7 799.8 338.8 799.1 338.8 C798.5 338.8 797.5 338.6 797.5 338.3Z" fill="#2f7f3f"/>
<path d="M796.0 340.0 L800.0 338.0" stroke="#7c4b2b" stroke-width="1.3" fill="none"/>
<path d="M794.7 321.7 C795.2 321.7 795.9 322.4 796.3 322.9 C796.7 323.3 796.6 324.4 797.1 324.6 C797.6 324.9 798.7 324.3 799.6 324.3 C800.4 324.3 801.4 324.6 802.3 324.7 C803.1 324.8 804.0 324.6 804.9 324.7 C805.8 324.9 806.9 325.2 807.6 325.6 C808.3 326.0 808.9 326.4 809.0 327.0 C809.1 327.6 808.5 328.6 808.2 329.3 C807.9 329.9 807.7 330.5 807.1 331.0 C806.6 331.6 805.8 332.0 805.1 332.5 C804.4 332.9 803.9 333.3 803.1 333.7 C802.4 334.0 801.4 334.3 800.5 334.6 C799.6 334.8 798.6 335.0 797.8 335.1 C797.0 335.2 796.3 335.4 795.6 335.4 C794.8 335.3 794.1 334.9 793.4 334.8 C792.6 334.8 791.9 335.2 791.1 335.0 C790.4 334.8 789.6 334.2 788.9 333.8 C788.3 333.4 787.7 333.3 787.1 332.8 C786.6 332.3 786.0 331.3 785.8 330.6 C785.7 329.8 786.0 329.1 786.2 328.4 C786.3 327.6 786.4 326.8 786.6 326.2 C786.9 325.6 787.1 325.2 787.6 324.8 C788.1 324.5 789.1 324.1 789.8 324.1 C790.6 324.1 791.6 324.9 792.1 324.7 C792.7 324.5 792.7 323.4 793.1 322.9 C793.5 322.4 794.2 321.7 794.7 321.7Z" fill="url(#gS)" stroke="#7aa44d" stroke-width="0.8" filter="url(#grain)"/>
<path d="M795.9 335.3 Q792.9 332.2 790.7 329.3" stroke="#6b4526" stroke-width="0.9" fill="none" stroke-linecap="round"/>
<path d="M831.5 302.0 L831.2 362.9 L827.1 366.9 L839.1 366.9 L835.0 362.9 L834.7 302.0 Z" fill="url(#bark)"/>
<path d="M834.0 320.7 C833.7 319.1 835.5 316.5 837.0 315.4 C838.5 314.3 841.0 313.9 842.8 314.1 C844.5 314.2 845.9 316.0 847.8 316.3 C849.6 316.6 852.1 315.3 854.0 316.0 C855.9 316.8 858.5 319.0 859.0 320.7 C859.5 322.3 858.2 325.2 857.0 325.9 C855.8 326.7 853.5 325.6 851.5 325.3 C849.5 325.0 847.3 324.1 845.2 324.0 C843.2 323.9 840.9 325.2 839.0 324.6 C837.1 324.1 834.3 322.2 834.0 320.7Z" fill="#2f7f3f"/>
<path d="M816.5 310.6 C816.5 310.0 818.4 308.4 819.6 307.8 C820.9 307.2 822.6 306.8 823.9 306.9 C825.1 307.0 827.0 307.9 827.0 308.5 C827.0 309.2 825.1 310.3 823.9 310.8 C822.6 311.3 820.9 311.5 819.6 311.5 C818.4 311.5 816.5 311.2 816.5 310.6Z" fill="#2f7f3f"/>
<path d="M832.0 314.0 L824.0 310.0" stroke="#7c4b2b" stroke-width="1.3" fill="none"/>
<path d="M834.7 277.8 C833.6 277.8 832.3 279.1 831.5 280.1 C830.7 281.1 831.0 283.2 829.9 283.6 C828.8 284.1 826.7 282.9 825.0 282.9 C823.3 282.9 821.5 283.7 819.7 283.8 C817.9 283.9 816.2 283.5 814.4 283.8 C812.6 284.1 810.5 284.8 809.1 285.6 C807.7 286.3 806.5 287.2 806.3 288.4 C806.1 289.6 807.2 291.5 807.9 292.8 C808.5 294.1 809.0 295.3 810.0 296.3 C811.0 297.4 812.7 298.3 814.0 299.2 C815.4 300.0 816.4 300.9 817.9 301.6 C819.5 302.3 821.5 302.9 823.2 303.4 C825.0 303.9 826.9 304.2 828.5 304.5 C830.1 304.7 831.5 305.1 832.9 305.0 C834.4 304.9 835.9 304.0 837.3 303.9 C838.8 303.8 840.3 304.6 841.8 304.3 C843.2 303.9 844.9 302.5 846.2 301.8 C847.5 301.1 848.7 300.9 849.7 299.9 C850.7 298.8 852.0 296.9 852.4 295.5 C852.7 294.0 851.9 292.5 851.6 291.0 C851.4 289.6 851.2 288.0 850.8 286.8 C850.3 285.6 849.9 284.7 848.8 284.0 C847.8 283.3 845.9 282.6 844.4 282.6 C842.9 282.5 840.9 284.2 839.8 283.8 C838.7 283.4 838.7 281.3 837.9 280.3 C837.0 279.3 835.8 277.8 834.7 277.8Z" fill="url(#gS)" stroke="#7aa44d" stroke-width="0.8" filter="url(#grain)"/>
<path d="M832.4 304.8 Q838.2 298.6 842.6 292.8" stroke="#6b4526" stroke-width="1.4" fill="none" stroke-linecap="round"/>
<path d="M882.5 322.0 L882.2 362.9 L879.7 366.9 L888.1 366.9 L885.6 362.9 L885.3 322.0 Z" fill="url(#bark)"/>
<path d="M866.0 335.5 C865.8 334.4 867.0 332.5 868.0 331.7 C869.0 330.9 870.7 330.7 871.9 330.8 C873.1 330.9 874.0 332.1 875.3 332.4 C876.6 332.6 878.3 331.7 879.5 332.2 C880.8 332.7 882.6 334.3 882.9 335.5 C883.2 336.6 882.4 338.7 881.5 339.2 C880.7 339.8 879.2 339.0 877.8 338.8 C876.5 338.5 875.0 337.9 873.6 337.8 C872.2 337.7 870.6 338.7 869.4 338.3 C868.1 337.9 866.2 336.6 866.0 335.5Z" fill="#2f7f3f"/>
<path d="M888.0 328.6 C888.0 328.1 889.3 327.1 890.2 326.6 C891.0 326.2 892.3 325.9 893.1 326.0 C894.0 326.1 895.3 326.7 895.3 327.1 C895.3 327.6 894.0 328.4 893.1 328.7 C892.3 329.1 891.0 329.2 890.2 329.2 C889.3 329.2 888.0 329.0 888.0 328.6Z" fill="#2f7f3f"/>
<path d="M885.0 331.0 L891.0 328.3" stroke="#7c4b2b" stroke-width="1.3" fill="none"/>
<path d="M882.5 305.9 C883.2 305.9 884.1 306.8 884.6 307.4 C885.2 308.1 885.0 309.5 885.7 309.8 C886.4 310.1 887.9 309.3 889.0 309.3 C890.2 309.4 891.4 309.8 892.6 309.9 C893.8 310.0 895.0 309.7 896.2 309.9 C897.4 310.1 898.8 310.6 899.7 311.1 C900.6 311.6 901.5 312.2 901.6 313.0 C901.8 313.8 901.0 315.1 900.6 316.0 C900.1 316.9 899.8 317.7 899.1 318.4 C898.4 319.1 897.3 319.7 896.4 320.3 C895.5 320.9 894.8 321.5 893.8 321.9 C892.8 322.4 891.4 322.8 890.2 323.1 C889.0 323.4 887.7 323.7 886.7 323.8 C885.6 324.0 884.7 324.3 883.7 324.2 C882.7 324.1 881.7 323.6 880.7 323.5 C879.7 323.4 878.7 324.0 877.7 323.7 C876.8 323.5 875.7 322.6 874.8 322.1 C873.9 321.6 873.1 321.5 872.4 320.8 C871.7 320.0 870.8 318.8 870.6 317.8 C870.4 316.8 870.9 315.8 871.1 314.8 C871.3 313.8 871.4 312.8 871.7 312.0 C872.0 311.2 872.3 310.5 873.0 310.1 C873.7 309.6 875.0 309.1 876.0 309.1 C877.0 309.1 878.3 310.2 879.1 309.9 C879.8 309.7 879.8 308.2 880.4 307.6 C880.9 306.9 881.8 305.9 882.5 305.9Z" fill="url(#gS)" stroke="#7aa44d" stroke-width="0.8" filter="url(#grain)"/>
<path d="M884.0 324.1 Q880.1 319.9 877.2 316.0" stroke="#6b4526" stroke-width="1.3" fill="none" stroke-linecap="round"/>
</g>
<rect x="32.3" y="29.8" width="2.1" height="342" fill="#111"/>
<path d="M24 369.9 L941.5 365.3 L941.5 367.3 L24 372.5Z" fill="#111"/>
<text x="22.4" y="34.9" font-size="12" fill="#222" text-anchor="end">50</text>
<text x="22.4" y="101.5" font-size="12" fill="#222" text-anchor="end">40</text>
<text x="22.4" y="170.4" font-size="12" fill="#222" text-anchor="end">30</text>
<text x="22.4" y="239.1" font-size="12" fill="#222" text-anchor="end">20</text>
<text x="22.4" y="307.1" font-size="12" fill="#222" text-anchor="end">10</text>
<text x="22.4" y="375.2" font-size="12" fill="#222" text-anchor="end">0</text>
<text x="11.7" y="19" font-size="12" fill="#222">m</text>
<text x="71" y="21.9" font-size="14.3" font-weight="bold" fill="#111" textLength="249.5" lengthAdjust="spacingAndGlyphs">Wiecznie zielony las równikowy</text>
<text x="396" y="21.9" font-size="14.3" font-weight="bold" fill="#111" textLength="223.2" lengthAdjust="spacingAndGlyphs">Las równikowy z porą suchą</text>
<text x="768.4" y="21.9" font-size="14.3" font-weight="bold" fill="#111" textLength="77.3" lengthAdjust="spacingAndGlyphs">Las widny</text>
<line x1="75.0" y1="399.9" x2="307.0" y2="399.9" stroke="#c4cbca" stroke-width="1.35" stroke-dasharray="4.4 3.66"/>
<line x1="75.0" y1="427.5" x2="307.0" y2="427.5" stroke="#c4cbca" stroke-width="1.35" stroke-dasharray="4.4 3.66"/>
<line x1="75.0" y1="455.2" x2="307.0" y2="455.2" stroke="#c4cbca" stroke-width="1.35" stroke-dasharray="4.4 3.66"/>
<line x1="75.0" y1="482.8" x2="307.0" y2="482.8" stroke="#c4cbca" stroke-width="1.35" stroke-dasharray="4.4 3.66"/>
<line x1="75.0" y1="510.5" x2="307.0" y2="510.5" stroke="#c4cbca" stroke-width="1.35" stroke-dasharray="4.4 3.66"/>
<line x1="75.0" y1="538.1" x2="307.0" y2="538.1" stroke="#c4cbca" stroke-width="1.35" stroke-dasharray="4.4 3.66"/>
<line x1="75.0" y1="565.8" x2="307.0" y2="565.8" stroke="#c4cbca" stroke-width="1.35" stroke-dasharray="4.4 3.66"/>
<g filter="url(#sh)">
<rect x="75.0" y="433.1" width="10" height="160.3" fill="url(#bar)"/>
<rect x="95.1" y="430.9" width="10" height="162.5" fill="url(#bar)"/>
<rect x="115.2" y="399.9" width="10" height="193.5" fill="url(#bar)"/>
<rect x="135.2" y="408.2" width="10" height="185.2" fill="url(#bar)"/>
<rect x="155.3" y="411.6" width="10" height="181.8" fill="url(#bar)"/>
<rect x="175.4" y="462.2" width="10" height="131.2" fill="url(#bar)"/>
<rect x="195.5" y="475.9" width="10" height="117.5" fill="url(#bar)"/>
<rect x="215.6" y="476.6" width="10" height="116.8" fill="url(#bar)"/>
<rect x="235.6" y="449.6" width="10" height="143.8" fill="url(#bar)"/>
<rect x="255.7" y="455.2" width="10" height="138.1" fill="url(#bar)"/>
<rect x="275.8" y="423.2" width="10" height="170.2" fill="url(#bar)"/>
<rect x="295.9" y="419.4" width="10" height="174.0" fill="url(#bar)"/>
</g>
<path d="M70.7 396.2 V593.4 H311.0 V396.2" fill="none" stroke="#2a2a2a" stroke-width="1.4"/>
<line x1="90.0" y1="593.4" x2="90.0" y2="595.4" stroke="#2a2a2a" stroke-width="1"/>
<line x1="110.1" y1="593.4" x2="110.1" y2="595.4" stroke="#2a2a2a" stroke-width="1"/>
<line x1="130.2" y1="593.4" x2="130.2" y2="595.4" stroke="#2a2a2a" stroke-width="1"/>
<line x1="150.3" y1="593.4" x2="150.3" y2="595.4" stroke="#2a2a2a" stroke-width="1"/>
<line x1="170.4" y1="593.4" x2="170.4" y2="595.4" stroke="#2a2a2a" stroke-width="1"/>
<line x1="190.4" y1="593.4" x2="190.4" y2="595.4" stroke="#2a2a2a" stroke-width="1"/>
<line x1="210.5" y1="593.4" x2="210.5" y2="595.4" stroke="#2a2a2a" stroke-width="1"/>
<line x1="230.6" y1="593.4" x2="230.6" y2="595.4" stroke="#2a2a2a" stroke-width="1"/>
<line x1="250.7" y1="593.4" x2="250.7" y2="595.4" stroke="#2a2a2a" stroke-width="1"/>
<line x1="270.8" y1="593.4" x2="270.8" y2="595.4" stroke="#2a2a2a" stroke-width="1"/>
<line x1="290.8" y1="593.4" x2="290.8" y2="595.4" stroke="#2a2a2a" stroke-width="1"/>
<polyline points="70.7,445.9 100.0,445.5 120.0,447.0 140.0,449.0 160.0,448.1 180.0,450.0 200.0,452.8 220.0,450.0 240.0,447.2 260.0,444.8 280.0,445.0 311.0,445.7" fill="none" stroke="#ad1230" stroke-width="3.2" stroke-linejoin="round"/>
<text x="68.1" y="403.5" font-size="11.6" fill="#b3223d" text-anchor="end">35</text>
<text x="68.1" y="431.1" font-size="11.6" fill="#b3223d" text-anchor="end">30</text>
<text x="68.1" y="458.8" font-size="11.6" fill="#b3223d" text-anchor="end">25</text>
<text x="68.1" y="486.4" font-size="11.6" fill="#b3223d" text-anchor="end">20</text>
<text x="68.1" y="514.1" font-size="11.6" fill="#b3223d" text-anchor="end">15</text>
<text x="68.1" y="541.7" font-size="11.6" fill="#b3223d" text-anchor="end">10</text>
<text x="68.1" y="569.4" font-size="11.6" fill="#b3223d" text-anchor="end">5</text>
<text x="68.1" y="597.0" font-size="11.6" fill="#b3223d" text-anchor="end">0</text>
<text x="67.8" y="390.2" font-size="11.6" fill="#b3223d" text-anchor="end">°C</text>
<text x="313.0" y="403.5" font-size="11.6" fill="#2c5b9b">315</text>
<text x="313.0" y="431.1" font-size="11.6" fill="#2c5b9b">270</text>
<text x="313.0" y="458.8" font-size="11.6" fill="#2c5b9b">225</text>
<text x="313.0" y="486.4" font-size="11.6" fill="#2c5b9b">180</text>
<text x="313.0" y="514.1" font-size="11.6" fill="#2c5b9b">135</text>
<text x="313.0" y="541.7" font-size="11.6" fill="#2c5b9b">90</text>
<text x="313.0" y="569.4" font-size="11.6" fill="#2c5b9b">45</text>
<text x="313.0" y="597.0" font-size="11.6" fill="#2c5b9b">0</text>
<text x="313.0" y="390.2" font-size="11.6" fill="#2c5b9b">mm</text>
<text x="80.0" y="604.8" font-size="11" fill="#333" text-anchor="middle">I</text>
<text x="100.1" y="604.8" font-size="11" fill="#333" text-anchor="middle">II</text>
<text x="120.2" y="604.8" font-size="11" fill="#333" text-anchor="middle">III</text>
<text x="140.2" y="604.8" font-size="11" fill="#333" text-anchor="middle">IV</text>
<text x="160.3" y="604.8" font-size="11" fill="#333" text-anchor="middle">V</text>
<text x="180.4" y="604.8" font-size="11" fill="#333" text-anchor="middle">VI</text>
<text x="200.5" y="604.8" font-size="11" fill="#333" text-anchor="middle">VII</text>
<text x="220.6" y="604.8" font-size="11" fill="#333" text-anchor="middle">VIII</text>
<text x="240.6" y="604.8" font-size="11" fill="#333" text-anchor="middle">IX</text>
<text x="260.7" y="604.8" font-size="11" fill="#333" text-anchor="middle">X</text>
<text x="280.8" y="604.8" font-size="11" fill="#333" text-anchor="middle">XI</text>
<text x="300.9" y="604.8" font-size="11" fill="#333" text-anchor="middle">XII</text>
<text x="90.2" y="630" font-size="14.5" fill="#222" textLength="194.0" lengthAdjust="spacingAndGlyphs">Klimatogram Iquitos, Peru</text>
<line x1="380.3" y1="398.5" x2="612.3" y2="398.5" stroke="#c4cbca" stroke-width="1.35" stroke-dasharray="4.4 3.66"/>
<line x1="380.3" y1="430.9" x2="612.3" y2="430.9" stroke="#c4cbca" stroke-width="1.35" stroke-dasharray="4.4 3.66"/>
<line x1="380.3" y1="463.3" x2="612.3" y2="463.3" stroke="#c4cbca" stroke-width="1.35" stroke-dasharray="4.4 3.66"/>
<line x1="380.3" y1="495.8" x2="612.3" y2="495.8" stroke="#c4cbca" stroke-width="1.35" stroke-dasharray="4.4 3.66"/>
<line x1="380.3" y1="528.2" x2="612.3" y2="528.2" stroke="#c4cbca" stroke-width="1.35" stroke-dasharray="4.4 3.66"/>
<line x1="380.3" y1="560.6" x2="612.3" y2="560.6" stroke="#c4cbca" stroke-width="1.35" stroke-dasharray="4.4 3.66"/>
<g filter="url(#sh)">
<rect x="380.2" y="579.0" width="10" height="14.0" fill="url(#bar)"/>
<rect x="400.3" y="557.7" width="10" height="35.3" fill="url(#bar)"/>
<rect x="420.4" y="499.0" width="10" height="94.0" fill="url(#bar)"/>
<rect x="440.4" y="474.4" width="10" height="118.6" fill="url(#bar)"/>
<rect x="460.5" y="453.0" width="10" height="140.0" fill="url(#bar)"/>
<rect x="480.6" y="486.4" width="10" height="106.6" fill="url(#bar)"/>
<rect x="500.7" y="541.7" width="10" height="51.3" fill="url(#bar)"/>
<rect x="520.8" y="528.3" width="10" height="64.7" fill="url(#bar)"/>
<rect x="540.8" y="427.9" width="10" height="165.1" fill="url(#bar)"/>
<rect x="560.9" y="398.4" width="10" height="194.6" fill="url(#bar)"/>
<rect x="581.0" y="517.7" width="10" height="75.3" fill="url(#bar)"/>
<rect x="601.1" y="577.0" width="10" height="16.0" fill="url(#bar)"/>
</g>
<path d="M376.0 396.2 V593.0 H616.3 V396.2" fill="none" stroke="#2a2a2a" stroke-width="1.4"/>
<line x1="395.2" y1="593.0" x2="395.2" y2="595.0" stroke="#2a2a2a" stroke-width="1"/>
<line x1="415.3" y1="593.0" x2="415.3" y2="595.0" stroke="#2a2a2a" stroke-width="1"/>
<line x1="435.4" y1="593.0" x2="435.4" y2="595.0" stroke="#2a2a2a" stroke-width="1"/>
<line x1="455.5" y1="593.0" x2="455.5" y2="595.0" stroke="#2a2a2a" stroke-width="1"/>
<line x1="475.6" y1="593.0" x2="475.6" y2="595.0" stroke="#2a2a2a" stroke-width="1"/>
<line x1="495.6" y1="593.0" x2="495.6" y2="595.0" stroke="#2a2a2a" stroke-width="1"/>
<line x1="515.7" y1="593.0" x2="515.7" y2="595.0" stroke="#2a2a2a" stroke-width="1"/>
<line x1="535.8" y1="593.0" x2="535.8" y2="595.0" stroke="#2a2a2a" stroke-width="1"/>
<line x1="555.9" y1="593.0" x2="555.9" y2="595.0" stroke="#2a2a2a" stroke-width="1"/>
<line x1="576.0" y1="593.0" x2="576.0" y2="595.0" stroke="#2a2a2a" stroke-width="1"/>
<line x1="596.0" y1="593.0" x2="596.0" y2="595.0" stroke="#2a2a2a" stroke-width="1"/>
<polyline points="376.0,435.4 384.6,431.8 406.6,434.6 425.3,433.5 445.0,435.0 465.6,436.0 486.2,442.1 505.0,444.8 526.0,446.2 545.6,441.6 565.3,444.8 586.0,439.3 616.3,435.4" fill="none" stroke="#ad1230" stroke-width="3.2" stroke-linejoin="round"/>
<text x="373.4" y="402.1" font-size="11.6" fill="#b3223d" text-anchor="end">30</text>
<text x="373.4" y="434.5" font-size="11.6" fill="#b3223d" text-anchor="end">25</text>
<text x="373.4" y="466.9" font-size="11.6" fill="#b3223d" text-anchor="end">20</text>
<text x="373.4" y="499.4" font-size="11.6" fill="#b3223d" text-anchor="end">15</text>
<text x="373.4" y="531.8" font-size="11.6" fill="#b3223d" text-anchor="end">10</text>
<text x="373.4" y="564.2" font-size="11.6" fill="#b3223d" text-anchor="end">5</text>
<text x="373.4" y="596.6" font-size="11.6" fill="#b3223d" text-anchor="end">0</text>
<text x="373.1" y="390.2" font-size="11.6" fill="#b3223d" text-anchor="end">°C</text>
<text x="618.3" y="402.1" font-size="11.6" fill="#2c5b9b">300</text>
<text x="618.3" y="434.5" font-size="11.6" fill="#2c5b9b">250</text>
<text x="618.3" y="466.9" font-size="11.6" fill="#2c5b9b">200</text>
<text x="618.3" y="499.4" font-size="11.6" fill="#2c5b9b">150</text>
<text x="618.3" y="531.8" font-size="11.6" fill="#2c5b9b">100</text>
<text x="618.3" y="564.2" font-size="11.6" fill="#2c5b9b">50</text>
<text x="618.3" y="596.6" font-size="11.6" fill="#2c5b9b">0</text>
<text x="618.3" y="390.2" font-size="11.6" fill="#2c5b9b">mm</text>
<text x="385.2" y="604.8" font-size="11" fill="#333" text-anchor="middle">I</text>
<text x="405.3" y="604.8" font-size="11" fill="#333" text-anchor="middle">II</text>
<text x="425.4" y="604.8" font-size="11" fill="#333" text-anchor="middle">III</text>
<text x="445.4" y="604.8" font-size="11" fill="#333" text-anchor="middle">IV</text>
<text x="465.5" y="604.8" font-size="11" fill="#333" text-anchor="middle">V</text>
<text x="485.6" y="604.8" font-size="11" fill="#333" text-anchor="middle">VI</text>
<text x="505.7" y="604.8" font-size="11" fill="#333" text-anchor="middle">VII</text>
<text x="525.8" y="604.8" font-size="11" fill="#333" text-anchor="middle">VIII</text>
<text x="545.8" y="604.8" font-size="11" fill="#333" text-anchor="middle">IX</text>
<text x="565.9" y="604.8" font-size="11" fill="#333" text-anchor="middle">X</text>
<text x="586.0" y="604.8" font-size="11" fill="#333" text-anchor="middle">XI</text>
<text x="606.1" y="604.8" font-size="11" fill="#333" text-anchor="middle">XII</text>
<text x="386.0" y="630" font-size="14.5" fill="#222" textLength="227.3" lengthAdjust="spacingAndGlyphs">Klimatogram Jaunde, Kamerun</text>
<line x1="681.8" y1="403.6" x2="913.8" y2="403.6" stroke="#c4cbca" stroke-width="1.35" stroke-dasharray="4.4 3.66"/>
<line x1="681.8" y1="427.4" x2="913.8" y2="427.4" stroke="#c4cbca" stroke-width="1.35" stroke-dasharray="4.4 3.66"/>
<line x1="681.8" y1="451.1" x2="913.8" y2="451.1" stroke="#c4cbca" stroke-width="1.35" stroke-dasharray="4.4 3.66"/>
<line x1="681.8" y1="474.9" x2="913.8" y2="474.9" stroke="#c4cbca" stroke-width="1.35" stroke-dasharray="4.4 3.66"/>
<line x1="681.8" y1="498.6" x2="913.8" y2="498.6" stroke="#c4cbca" stroke-width="1.35" stroke-dasharray="4.4 3.66"/>
<line x1="681.8" y1="522.4" x2="913.8" y2="522.4" stroke="#c4cbca" stroke-width="1.35" stroke-dasharray="4.4 3.66"/>
<line x1="681.8" y1="546.1" x2="913.8" y2="546.1" stroke="#c4cbca" stroke-width="1.35" stroke-dasharray="4.4 3.66"/>
<line x1="681.8" y1="569.9" x2="913.8" y2="569.9" stroke="#c4cbca" stroke-width="1.35" stroke-dasharray="4.4 3.66"/>
<g filter="url(#sh)">
<rect x="722.2" y="591.0" width="10" height="2.6" fill="url(#bar)"/>
<rect x="742.2" y="590.0" width="10" height="3.6" fill="url(#bar)"/>
<rect x="762.3" y="561.0" width="10" height="32.6" fill="url(#bar)"/>
<rect x="782.4" y="528.3" width="10" height="65.3" fill="url(#bar)"/>
<rect x="802.5" y="454.7" width="10" height="138.9" fill="url(#bar)"/>
<rect x="822.6" y="427.1" width="10" height="166.5" fill="url(#bar)"/>
<rect x="842.6" y="510.3" width="10" height="83.3" fill="url(#bar)"/>
<rect x="862.7" y="583.7" width="10" height="9.9" fill="url(#bar)"/>
</g>
<path d="M677.5 396.2 V593.6 H917.8 V396.2" fill="none" stroke="#2a2a2a" stroke-width="1.4"/>
<line x1="697.0" y1="593.6" x2="697.0" y2="595.6" stroke="#2a2a2a" stroke-width="1"/>
<line x1="717.1" y1="593.6" x2="717.1" y2="595.6" stroke="#2a2a2a" stroke-width="1"/>
<line x1="737.2" y1="593.6" x2="737.2" y2="595.6" stroke="#2a2a2a" stroke-width="1"/>
<line x1="757.3" y1="593.6" x2="757.3" y2="595.6" stroke="#2a2a2a" stroke-width="1"/>
<line x1="777.4" y1="593.6" x2="777.4" y2="595.6" stroke="#2a2a2a" stroke-width="1"/>
<line x1="797.4" y1="593.6" x2="797.4" y2="595.6" stroke="#2a2a2a" stroke-width="1"/>
<line x1="817.5" y1="593.6" x2="817.5" y2="595.6" stroke="#2a2a2a" stroke-width="1"/>
<line x1="837.6" y1="593.6" x2="837.6" y2="595.6" stroke="#2a2a2a" stroke-width="1"/>
<line x1="857.7" y1="593.6" x2="857.7" y2="595.6" stroke="#2a2a2a" stroke-width="1"/>
<line x1="877.8" y1="593.6" x2="877.8" y2="595.6" stroke="#2a2a2a" stroke-width="1"/>
<line x1="897.8" y1="593.6" x2="897.8" y2="595.6" stroke="#2a2a2a" stroke-width="1"/>
<polyline points="677.5,477.2 692.5,478.5 712.2,464.6 731.0,449.0 750.6,432.8 771.2,432.8 790.0,443.4 808.1,456.0 829.1,463.1 847.5,458.4 867.8,448.5 888.8,460.3 907.9,476.2 917.8,477.4" fill="none" stroke="#ad1230" stroke-width="3.2" stroke-linejoin="round"/>
<text x="674.9" y="407.2" font-size="11.6" fill="#b3223d" text-anchor="end">40</text>
<text x="674.9" y="431.0" font-size="11.6" fill="#b3223d" text-anchor="end">35</text>
<text x="674.9" y="454.7" font-size="11.6" fill="#b3223d" text-anchor="end">30</text>
<text x="674.9" y="478.5" font-size="11.6" fill="#b3223d" text-anchor="end">25</text>
<text x="674.9" y="502.2" font-size="11.6" fill="#b3223d" text-anchor="end">20</text>
<text x="674.9" y="526.0" font-size="11.6" fill="#b3223d" text-anchor="end">15</text>
<text x="674.9" y="549.7" font-size="11.6" fill="#b3223d" text-anchor="end">10</text>
<text x="674.9" y="573.5" font-size="11.6" fill="#b3223d" text-anchor="end">5</text>
<text x="674.9" y="597.2" font-size="11.6" fill="#b3223d" text-anchor="end">0</text>
<text x="674.6" y="390.2" font-size="11.6" fill="#b3223d" text-anchor="end">°C</text>
<text x="919.8" y="403.7" font-size="11.6" fill="#2c5b9b">300</text>
<text x="919.8" y="436.0" font-size="11.6" fill="#2c5b9b">250</text>
<text x="919.8" y="468.2" font-size="11.6" fill="#2c5b9b">200</text>
<text x="919.8" y="500.5" font-size="11.6" fill="#2c5b9b">150</text>
<text x="919.8" y="532.7" font-size="11.6" fill="#2c5b9b">100</text>
<text x="919.8" y="565.0" font-size="11.6" fill="#2c5b9b">50</text>
<text x="919.8" y="597.2" font-size="11.6" fill="#2c5b9b">0</text>
<text x="919.8" y="390.2" font-size="11.6" fill="#2c5b9b">mm</text>
<text x="687.0" y="604.8" font-size="11" fill="#333" text-anchor="middle">I</text>
<text x="707.1" y="604.8" font-size="11" fill="#333" text-anchor="middle">II</text>
<text x="727.2" y="604.8" font-size="11" fill="#333" text-anchor="middle">III</text>
<text x="747.2" y="604.8" font-size="11" fill="#333" text-anchor="middle">IV</text>
<text x="767.3" y="604.8" font-size="11" fill="#333" text-anchor="middle">V</text>
<text x="787.4" y="604.8" font-size="11" fill="#333" text-anchor="middle">VI</text>
<text x="807.5" y="604.8" font-size="11" fill="#333" text-anchor="middle">VII</text>
<text x="827.6" y="604.8" font-size="11" fill="#333" text-anchor="middle">VIII</text>
<text x="847.6" y="604.8" font-size="11" fill="#333" text-anchor="middle">IX</text>
<text x="867.7" y="604.8" font-size="11" fill="#333" text-anchor="middle">X</text>
<text x="887.8" y="604.8" font-size="11" fill="#333" text-anchor="middle">XI</text>
<text x="907.9" y="604.8" font-size="11" fill="#333" text-anchor="middle">XII</text>
<text x="698.3" y="630" font-size="14.5" fill="#222" textLength="204.4" lengthAdjust="spacingAndGlyphs">Klimatogram Niamey, Niger</text>
</svg>
</body></html>
